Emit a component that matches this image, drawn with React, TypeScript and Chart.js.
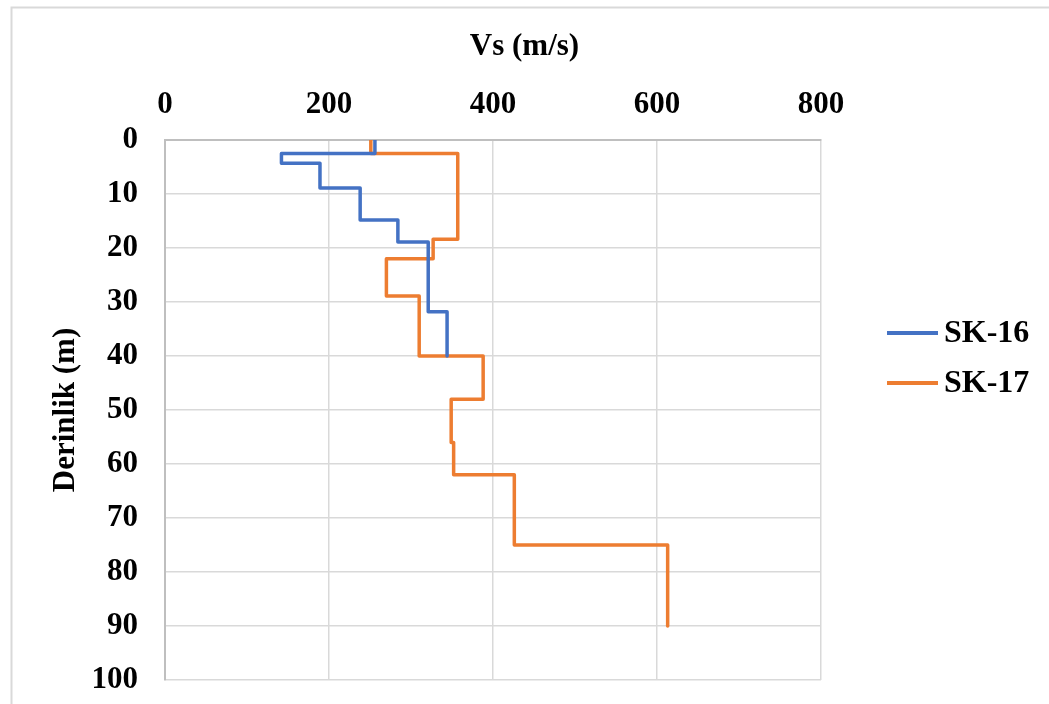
import React, { useEffect, useRef } from "react";
import { Chart, registerables } from "chart.js";

Chart.register(...registerables);

// Layer boundaries (depth, m) and shear-wave velocity (m/s) of each layer
const sk16Depths = [0, 2.5, 4.3, 8.9, 14.8, 18.9, 31.8, 40];
const sk16Vs = [256, 142, 189, 238, 284, 321, 344];

const sk17Depths = [0, 2.5, 18.4, 22, 28.9, 40, 48, 56, 62, 75, 90];
const sk17Vs = [251, 357, 327, 270, 310, 388, 349, 352, 426, 613];

const seriesNames = ["SK-16", "SK-17"];
const seriesColors = ["#4472C4", "#ED7D31"];

const xTicks = [0, 200, 400, 600, 800];
const yTicks = [0, 10, 20, 30, 40, 50, 60, 70, 80, 90, 100];

const xTitle = "Vs (m/s)";
const yTitle = "Derinlik (m)";

function stepPoints(depths: number[], vs: number[]) {
  const pts: { x: number; y: number }[] = [];
  for (let i = 0; i < vs.length; i++) {
    pts.push({ x: vs[i], y: depths[i] });
    pts.push({ x: vs[i], y: depths[i + 1] });
  }
  return pts;
}

const FONT_FAMILY = "'Liberation Serif', 'Times New Roman', serif";

export default function App() {
  const ref = useRef<HTMLCanvasElement | null>(null);

  useEffect(() => {
    if (!ref.current) return;

    const outerBorder = {
      id: "outerBorder",
      beforeDraw(chart: any) {
        const ctx = chart.ctx;
        ctx.save();
        ctx.fillStyle = "#ffffff";
        ctx.fillRect(0, 0, chart.width, chart.height);
        ctx.strokeStyle = "#d9d9d9";
        ctx.lineWidth = 2;
        ctx.beginPath();
        ctx.moveTo(11.5, chart.height + 10);
        ctx.lineTo(11.5, 7.5);
        ctx.lineTo(chart.width + 10, 7.5);
        ctx.stroke();
        ctx.restore();
      },
    };

    const chartTexts = {
      id: "chartTexts",
      afterDraw(chart: any) {
        const ctx = chart.ctx;
        ctx.save();
        // horizontal axis title, centred on the whole chart
        ctx.fillStyle = "#000000";
        ctx.font = `bold 31px ${FONT_FAMILY}`;
        ctx.textAlign = "center";
        ctx.textBaseline = "middle";
        ctx.fillText(xTitle, 524.5, 47);
        // legend
        chart.data.datasets.forEach((ds: any, i: number) => {
          const y = 333 + i * 50;
          ctx.strokeStyle = ds.borderColor;
          ctx.lineWidth = 4;
          ctx.lineCap = "butt";
          ctx.beginPath();
          ctx.moveTo(887, y);
          ctx.lineTo(938, y);
          ctx.stroke();
          ctx.fillStyle = "#000000";
          ctx.font = `bold 32px ${FONT_FAMILY}`;
          ctx.textAlign = "left";
          ctx.textBaseline = "middle";
          ctx.fillText(ds.label, 944, y + 1);
        });
        ctx.restore();
      },
    };

    const chart = new Chart(ref.current, {
      type: "scatter",
      data: {
        datasets: [
          {
            label: seriesNames[0],
            data: stepPoints(sk16Depths, sk16Vs),
            borderColor: seriesColors[0],
            backgroundColor: seriesColors[0],
            showLine: true,
            borderWidth: 3.5,
            pointRadius: 0,
            borderJoinStyle: "round",
            tension: 0,
          },
          {
            label: seriesNames[1],
            data: stepPoints(sk17Depths, sk17Vs),
            borderColor: seriesColors[1],
            backgroundColor: seriesColors[1],
            showLine: true,
            borderWidth: 3.5,
            pointRadius: 0,
            borderJoinStyle: "round",
            tension: 0,
          },
        ],
      },
      options: {
        animation: false,
        responsive: false,
        layout: { padding: { left: 0, top: 0, right: 228, bottom: 24 } },
        plugins: {
          legend: { display: false },
          tooltip: { enabled: false },
        },
        scales: {
          x: {
            type: "linear",
            position: "top",
            min: xTicks[0],
            max: xTicks[xTicks.length - 1],
            afterBuildTicks(scale: any) {
              scale.ticks = xTicks.map((v) => ({ value: v }));
            },
            afterFit(scale: any) {
              scale.height = 140;
              scale.paddingLeft = 0;
              scale.paddingRight = 0;
            },
            grid: { color: "#d9d9d9", lineWidth: 1.5, drawTicks: false },
            border: { color: "#bfbfbf", width: 2 },
            ticks: {
              padding: 16,
              color: "#000000",
              font: { family: FONT_FAMILY, size: 31, weight: "bold" },
            },
            title: { display: false },
          },
          y: {
            type: "linear",
            reverse: true,
            min: yTicks[0],
            max: yTicks[yTicks.length - 1],
            afterBuildTicks(scale: any) {
              scale.ticks = yTicks.map((v) => ({ value: v }));
            },
            afterFit(scale: any) {
              scale.width = 165;
              scale.paddingTop = 0;
              scale.paddingBottom = 0;
            },
            grid: { color: "#d9d9d9", lineWidth: 1.5, drawTicks: false },
            border: { color: "#bfbfbf", width: 2 },
            ticks: {
              padding: 27,
              color: "#000000",
              font: { family: FONT_FAMILY, size: 31, weight: "bold" },
            },
            title: {
              display: true,
              text: yTitle,
              color: "#000000",
              font: { family: FONT_FAMILY, size: 31, weight: "bold" },
              padding: { top: 47, bottom: 0 },
            },
          },
        },
      },
      plugins: [outerBorder, chartTexts],
    } as any);

    return () => chart.destroy();
  }, []);

  return (
    <div style={{ position: "absolute", left: 0, top: 0, width: 1049, height: 704 }}>
      <canvas ref={ref} width={1049} height={704} style={{ display: "block" }} />
    </div>
  );
}
